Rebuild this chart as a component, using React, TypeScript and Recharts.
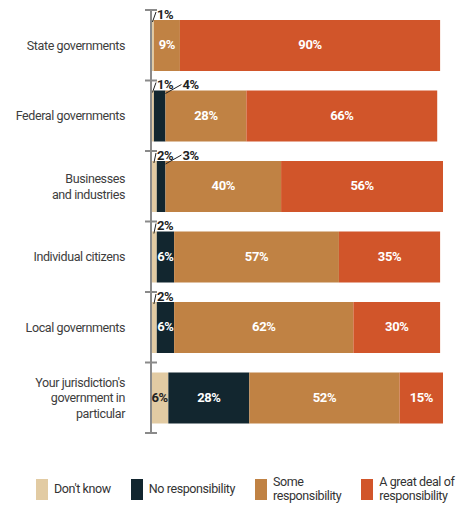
import { BarChart, Bar, XAxis, YAxis, Legend, LabelList } from "recharts";

const categories = [
  "State governments",
  "Federal governments",
  "Businesses\nand industries",
  "Individual citizens",
  "Local governments",
  "Your jurisdiction's\ngovernment in\nparticular",
];
const dontKnow = [1, 1, 2, 2, 2, 6];
const noResponsibility = [0, 4, 3, 6, 6, 28];
const someResponsibility = [9, 28, 40, 57, 62, 52];
const greatDeal = [90, 66, 56, 35, 30, 15];
const seriesNames = [
  "Don't know",
  "No responsibility",
  "Some\nresponsibility",
  "A great deal of\nresponsibility",
];

const keys = ["dontKnow", "noResponsibility", "someResponsibility", "greatDeal"];
const colors = ["#E2CBA3", "#12262F", "#C08244", "#D1552A"];
const AXIS = "#8a8a8a";
const INK = "#222222";
const FONT = "Roboto, 'Noto Sans', sans-serif";

const data = categories.map((name, i) => ({
  name,
  dontKnow: dontKnow[i],
  noResponsibility: noResponsibility[i],
  someResponsibility: someResponsibility[i],
  greatDeal: greatDeal[i],
}));

const CategoryTick = (props: any) => {
  const { x, y, payload, index } = props;
  const half = payload.offset ?? 35;
  const lines = String(payload.value).split("\n");
  const lh = 15.5;
  const top = y - ((lines.length - 1) * lh) / 2;
  return (
    <g>
      <line x1={x - 6} x2={x + 6} y1={y - half} y2={y - half} stroke={AXIS} strokeWidth={2} />
      {index === categories.length - 1 && (
        <line x1={x - 6} x2={x + 6} y1={y + half} y2={y + half} stroke={AXIS} strokeWidth={2} />
      )}
      <text
        x={x - 26}
        y={top}
        textAnchor="end"
        fill="#3d3d3d"
        fontSize={12.5}
        letterSpacing={-0.4}
        fontFamily={FONT}
      >
        {lines.map((l, i) => (
          <tspan key={i} x={x - 26} dy={i === 0 ? 4.5 : lh}>
            {l}
          </tspan>
        ))}
      </text>
    </g>
  );
};

// small shares get a label above the bar with a leader line
const makeLabel = (series: number) => (props: any) => {
  const { value } = props;
  if (!value) return null;
  const x = Number(props.x);
  const y = Number(props.y);
  const w = Number(props.width);
  const h = Number(props.height);
  const text = `${value}%`;
  const common = { fontSize: 13, fontWeight: 700, fontFamily: FONT, letterSpacing: -0.4 };
  if (value <= 4) {
    if (series === 0) {
      return (
        <g>
          <line x1={x + w / 2} y1={y + 2} x2={x + 5} y2={y - 8} stroke={INK} strokeWidth={1} />
          <text x={x + 6} y={y - 1.5} fill={INK} {...common}>
            {text}
          </text>
        </g>
      );
    }
    return (
      <g>
        <line x1={x + w} y1={y + 3} x2={x + w + 16} y2={y - 6} stroke={INK} strokeWidth={1} />
        <text x={x + w + 17} y={y - 1.5} fill={INK} {...common}>
          {text}
        </text>
      </g>
    );
  }
  return (
    <text
      x={x + w / 2}
      y={y + h / 2 - 1}
      textAnchor="middle"
      dominantBaseline="central"
      fill={series === 0 ? INK : "#ffffff"}
      {...common}
    >
      {text}
    </text>
  );
};

const LegendContent = () => (
  <div
    style={{
      display: "flex",
      alignItems: "center",
      gap: 20,
      paddingLeft: 28,
      paddingTop: 42,
      fontFamily: FONT,
      fontSize: 12.5,
      letterSpacing: -0.4,
      color: "#333",
    }}
  >
    {seriesNames.map((n, i) => (
      <div key={n} style={{ display: "flex", alignItems: "center", gap: 6 }}>
        <div style={{ width: 12, height: 21, background: colors[i] }} />
        <div style={{ whiteSpace: "pre", lineHeight: "14px" }}>{n}</div>
      </div>
    ))}
  </div>
);

export default function App() {
  return (
    <div style={{ width: 449, height: 498 }}>
      <BarChart
        width={449}
        height={498}
        data={data}
        layout="vertical"
        barSize={51}
        margin={{ top: 2, right: 14, bottom: 0, left: 0 }}
      >
        <XAxis type="number" domain={[0, 101]} hide />
        <YAxis
          type="category"
          dataKey="name"
          width={143}
          axisLine={{ stroke: AXIS, strokeWidth: 2 }}
          tickLine={false}
          tickSize={0}
          tickMargin={0}
          tick={<CategoryTick />}
          interval={0}
        />
        <Legend
          verticalAlign="bottom"
          height={73}
          wrapperStyle={{ left: 0, width: 449 }}
          content={<LegendContent />}
        />
        {keys.map((k, i) => (
          <Bar key={k} dataKey={k} stackId="a" fill={colors[i]} isAnimationActive={false}>
            <LabelList dataKey={k} content={makeLabel(i)} />
          </Bar>
        ))}
      </BarChart>
    </div>
  );
}
